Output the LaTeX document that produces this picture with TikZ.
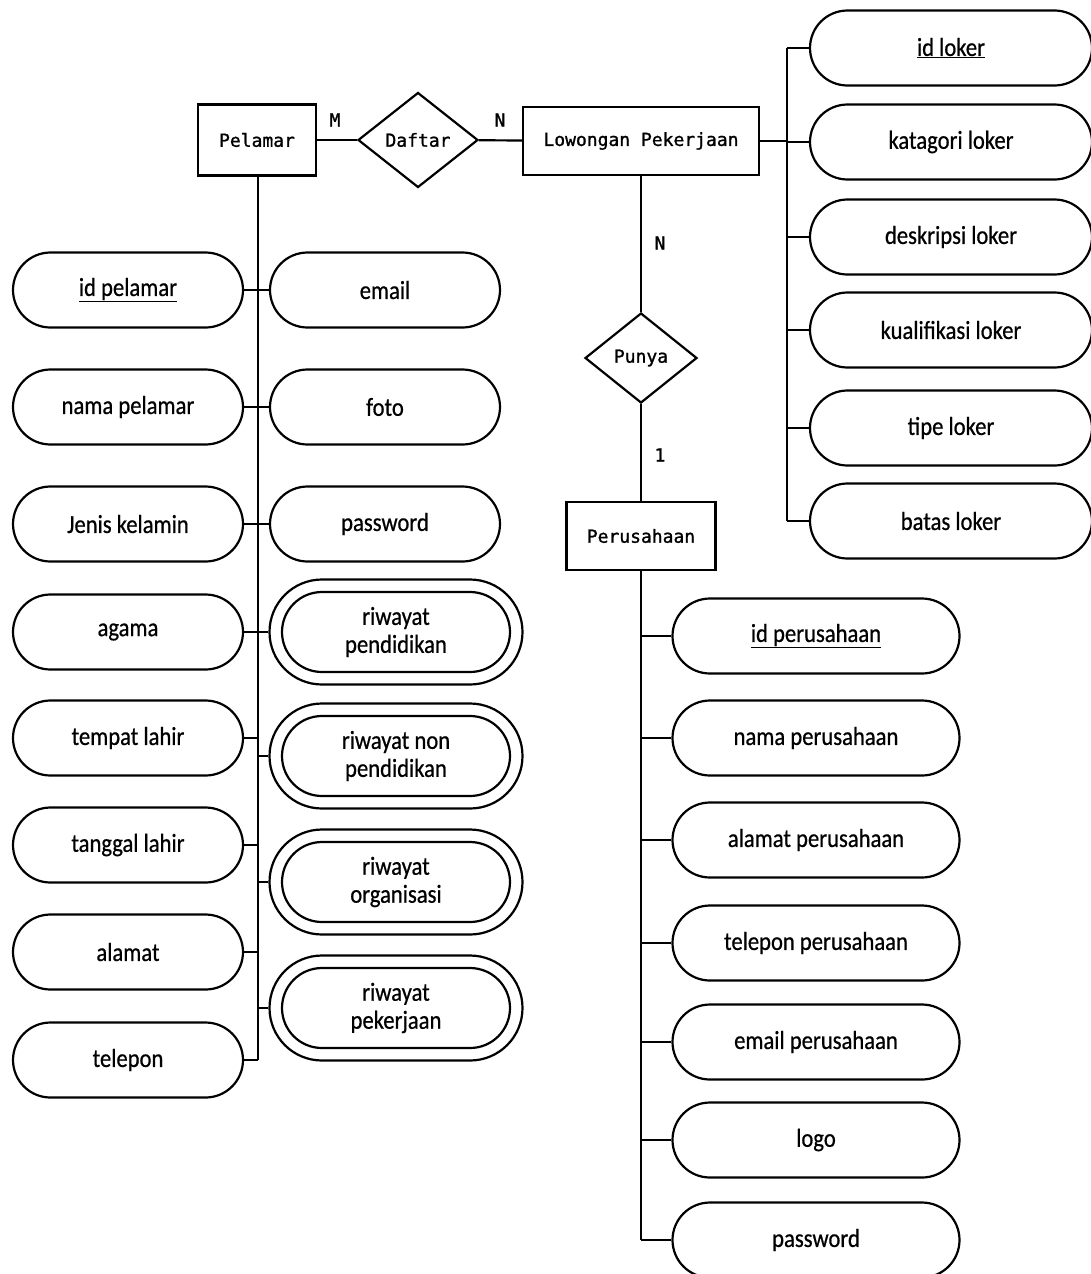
\documentclass[tikz,border=0pt]{standalone}
\usepackage{fontspec}
\setmainfont{Carlito}
\newfontfamily\monof[FakeBold=1.2]{DejaVu Sans Mono}
\newfontfamily\attrf[FakeStretch=0.87,FakeBold=0.6]{Carlito}
\newcommand\entfont{\monof\fontsize{18}{21}\selectfont}
\newcommand\attfont{\attrf\fontsize{26}{28}\selectfont}
\usetikzlibrary{shapes.geometric,shapes.misc}
\begin{document}
\begin{tikzpicture}[x=1pt,y=-1pt,line width=2.2pt,
  ent/.style={draw,fill=white,rectangle,inner sep=0pt,font=\entfont},
  rel/.style={draw,fill=white,diamond,inner sep=0pt,font=\entfont},
  attr/.style={draw,fill=white,rounded rectangle,inner sep=0pt,minimum height=75pt,font=\attfont,align=center},
  latt/.style={attr,minimum width=230pt},
  ratt/.style={attr,minimum width=282pt},
  patt/.style={attr,minimum width=287pt},
  mvout/.style={attr,minimum width=253pt,minimum height=105pt},
  mvin/.style={attr,minimum width=228pt,minimum height=80pt},
  card/.style={font=\entfont,inner sep=0pt}]
\useasboundingbox (0,0) rectangle (1090,1274);
% entities and relationships
\node[ent,minimum width=118pt,minimum height=71pt] (pel) at (257,140) {Pelamar};
\node[rel,minimum width=120pt,minimum height=95pt] (daf) at (418,140) {Daftar};
\node[ent,minimum width=236pt,minimum height=68pt] (lp) at (641,141) {Lowongan Pekerjaan};
\node[rel,minimum width=112pt,minimum height=90pt] (pun) at (641,358) {Punya};
\node[ent,minimum width=149pt,minimum height=68pt] (per) at (641,536) {Perusahaan};
% cardinalities
\node[card] (cm) at (335,120) {M};
\node[card] (cn1) at (500,120) {N};
\node[card] (cn2) at (660,243) {N};
\node[card] (c1) at (660,455) {1};
% Pelamar attributes, left
\node[latt] (idp) at (128,290) {\underline{id pelamar}};
\node[latt] (nmp) at (128,407) {nama pelamar};
\node[latt] (jk) at (128,524) {Jenis kelamin};
\node[latt] (ag) at (128,632) {agama};
\node[latt] (tl) at (128,738) {tempat lahir};
\node[latt] (tgl) at (128,845) {tanggal lahir};
\node[latt] (al) at (128,952) {alamat};
\node[latt] (tel) at (128,1060) {telepon};
% Pelamar attributes, right
\node[latt] (em) at (385,290) {email};
\node[latt] (fo) at (385,407) {foto};
\node[latt] (pw) at (385,524) {password};
\node[mvout] (rp) at (396,632) {};
\node[mvin] (rpi) at (396,632) {riwayat\\pendidikan};
\node[mvout] (rnp) at (396,756) {};
\node[mvin] (rnpi) at (396,756) {riwayat non\\pendidikan};
\node[mvout] (ro) at (396,882) {};
\node[mvin] (roi) at (396,882) {riwayat\\organisasi};
\node[mvout] (rk) at (396,1008) {};
\node[mvin] (rki) at (396,1008) {riwayat\\pekerjaan};
% Lowongan attributes
\node[ratt] (idl) at (951,48) {\underline{id loker}};
\node[ratt] (kat) at (951,142) {katagori loker};
\node[ratt] (des) at (951,237) {deskripsi loker};
\node[ratt] (kua) at (951,330) {kualifikasi loker};
\node[ratt] (tip) at (951,428) {tipe loker};
\node[ratt] (bat) at (951,521) {batas loker};
% Perusahaan attributes
\node[patt] (idper) at (816,636) {\underline{id perusahaan}};
\node[patt] (nper) at (816,738) {nama perusahaan};
\node[patt] (aper) at (816,840) {alamat perusahaan};
\node[patt] (tper) at (816,943) {telepon perusahaan};
\node[patt] (eper) at (816,1042) {email perusahaan};
\node[patt] (logo) at (816,1140) {logo};
\node[patt] (pwper) at (816,1240) {password};
% relationships connectors
\draw (pel) -- (daf);
\draw (daf) -- (lp);
\draw (lp) -- (pun);
\draw (pun) -- (per);
% Pelamar bus
\coordinate (pb) at (258,176);
\draw (pb) -- (pb |- tel.east);
\foreach \n in {idp,nmp,jk,ag,tl,tgl,al,tel}{\draw (\n.east) -- (\n.east -| pb);}
\foreach \n in {em,fo,pw,rp,rnp,ro,rk}{\draw (\n.west) -- (\n.west -| pb);}
% Lowongan bus
\coordinate (lb) at (787,141);
\draw (lp.east) -- (lb);
\draw (lb |- idl.west) -- (lb |- bat.west);
\foreach \n in {idl,kat,des,kua,tip,bat}{\draw (\n.west) -- (\n.west -| lb);}
% Perusahaan bus
\draw (per.south) -- (per.south |- pwper.west);
\foreach \n in {idper,nper,aper,tper,eper,logo,pwper}{\draw (\n.west) -- (\n.west -| per.south);}
\end{tikzpicture}
\end{document}
